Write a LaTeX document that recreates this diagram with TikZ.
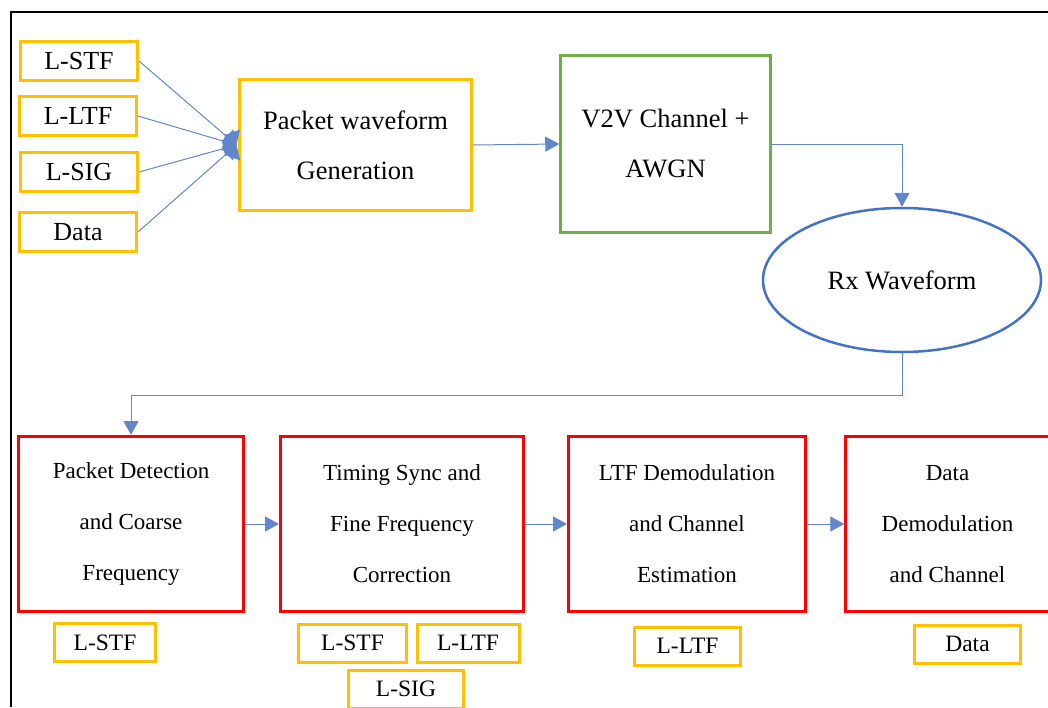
\documentclass[tikz,border=0pt]{standalone}
\usepackage{fontspec}
\setmainfont{Liberation Serif}
\newfontfamily\timesfont{Liberation Serif}
\usetikzlibrary{arrows.meta,shapes.geometric}
\usepackage{xcolor}
\definecolor{gold}{HTML}{FFC000}
\definecolor{leaf}{HTML}{70AD47}
\definecolor{link}{HTML}{4472C4}

\begin{document}
\begin{tikzpicture}[x=1pt, y=-1pt,
  field/.style={rectangle, draw=gold, line width=3pt, minimum width=117pt,
                minimum height=39pt, inner sep=0pt,
                font=\timesfont\fontsize{26}{30}\selectfont},
  tag/.style={rectangle, draw=gold, line width=3pt, minimum height=38pt,
              inner sep=0pt, font=\timesfont\fontsize{23.5}{28}\selectfont},
  block/.style={rectangle, line width=3pt, inner sep=0pt, align=center,
                font=\timesfont\fontsize{26.5}{50}\selectfont},
  stage/.style={rectangle, draw=red, line width=3pt, minimum height=175pt,
                inner sep=0pt, align=center,
                font=\timesfont\fontsize{23}{51}\selectfont},
  link/.style={link!85, line width=1pt},
  flow/.style={link, -{Triangle[length=14pt, width=15pt]}},
  merge/.style={link, -{Diamond[length=15pt, width=28pt]}},
]
  \useasboundingbox (0,0) rectangle (1048,707);

  % Frame
  \draw[line width=1.8pt] (11,707) -- (11,12) -- (1048,12);

  % Packet fields
  \node[field] (stf)  at (79, 61)  {L-STF};
  \node[field] (ltf)  at (78, 116) {L-LTF};
  \node[field] (sig)  at (79, 172) {L-SIG};
  \node[field] (data) at (78, 232) {Data};

  % Transmit chain
  \node[block, draw=gold, minimum width=232pt, minimum height=131pt]
    (gen) at (355.5, 145) {Packet waveform\\Generation};
  \node[block, draw=leaf, line width=2.5pt, minimum width=210pt, minimum height=177pt]
    (chan) at (665.5, 144) {V2V Channel +\\AWGN};
  \node[ellipse, draw=link, line width=2.5pt, minimum width=278pt,
        minimum height=144pt, inner sep=0pt, font=\timesfont\fontsize{26.5}{30}\selectfont]
    (rx) at (902, 280) {Rx Waveform};

  % Receiver stages
  \node[stage, minimum width=225pt] (detect) at (131, 524)
    {Packet Detection\\and Coarse\\Frequency};
  \node[stage, minimum width=243pt] (sync) at (402, 524)
    {Timing Sync and\\Fine Frequency\\Correction};
  \node[stage, minimum width=237pt] (chest) at (687, 524)
    {LTF Demodulation\\and Channel\\Estimation};
  \node[stage, minimum width=203.5pt] (demod) at (947.5, 524)
    {Data\\Demodulation\\and Channel};

  % Fields used by each stage
  \node[tag, minimum width=101pt] (use1) at (105, 642.5) {L-STF};
  \node[tag, minimum width=108pt] (use2) at (352.5, 643) {L-STF};
  \node[tag, minimum width=102pt] (use3) at (468, 643)   {L-LTF};
  \node[tag, minimum width=115pt] (use4) at (406, 689)   {L-SIG};
  \node[tag, minimum width=106pt] (use5) at (687.5, 646) {L-LTF};
  \node[tag, minimum width=106pt] (use6) at (967.5, 644) {Data};

  % Connectors
  \draw[merge] (stf.east)  -- ([xshift=-1.5pt]gen.west);
  \draw[merge] (ltf.east)  -- ([xshift=-1.5pt]gen.west);
  \draw[merge] (sig.east)  -- ([xshift=-1.5pt]gen.west);
  \draw[merge] (data.east) -- ([xshift=-1.5pt]gen.west);
  \draw[flow] (gen.east) -- (chan.west);
  \draw[flow] (chan.east) -| (rx.north);
  \draw[flow] (rx.south) -- ++(0, 42) -| (detect.north);
  \draw[flow] (detect.east) -- (sync.west);
  \draw[flow] (sync.east) -- (chest.west);
  \draw[flow] (chest.east) -- (demod.west);
\end{tikzpicture}
\end{document}
